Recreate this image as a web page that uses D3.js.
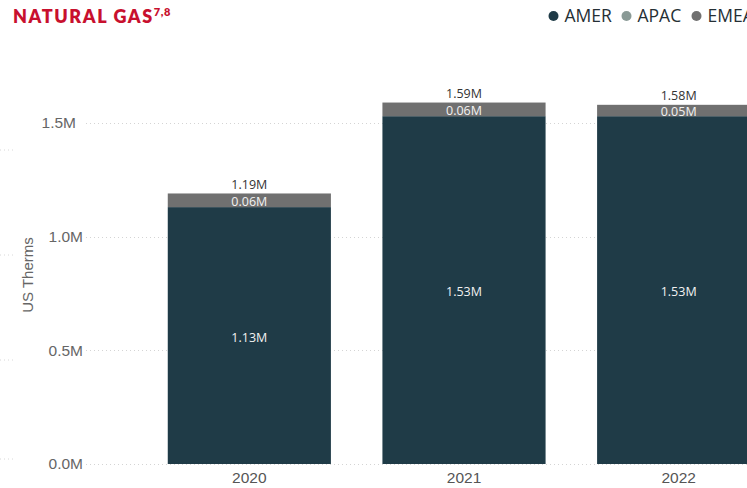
<!DOCTYPE html>
<html>
<head>
<meta charset="utf-8">
<script src="https://cdn.jsdelivr.net/npm/d3@7"></script>
<style>
  html, body { margin: 0; padding: 0; background: #fff; overflow: hidden; }
  svg { display: block; }
</style>
</head>
<body>
<svg id="chart" width="747" height="488"></svg>
<script>
// Natural gas consumption by region, in millions of US therms
const years = ["2020", "2021", "2022"];
const regions = ["AMER", "APAC", "EMEA"];
const amer = [1.13, 1.53, 1.53];
const apac = [0, 0, 0];
const emea = [0.06, 0.06, 0.05];
const totals = [1.19, 1.59, 1.58];
const yTicks = [0, 0.5, 1.0, 1.5];
const colors = ["#1f3b47", "#8a9a96", "#707070"];

const svg = d3.select("#chart");
const fmt = v => v.toFixed(2) + "M";

const x = d3.scaleBand().domain(years).range([142, 786]).paddingInner(0.24).paddingOuter(0.12);
const y = d3.scaleLinear().domain([0, 1.5]).range([464, 123]);
const color = d3.scaleOrdinal().domain(regions).range(colors);

// Title
const title = svg.append("text")
  .attr("x", 13).attr("y", 23)
  .attr("font-family", "Lato, 'Open Sans', sans-serif")
  .attr("font-weight", 800)
  .attr("font-size", 18)
  .attr("letter-spacing", 1.6)
  .attr("fill", "#c8102e")
  .text("NATURAL GAS");
title.append("tspan")
  .attr("dy", -7).attr("dx", 0)
  .attr("font-size", 11)
  .attr("letter-spacing", 0.6)
  .text("7,8");

// Legend
const legendX = [553.5, 626.5, 696.5];
const legend = svg.append("g").selectAll("g").data(regions).join("g")
  .attr("transform", (d, i) => `translate(${legendX[i]},16)`);
legend.append("circle").attr("r", 5).attr("fill", d => color(d));
legend.append("text")
  .attr("x", 11).attr("dy", "0.36em")
  .attr("font-family", "'Open Sans', sans-serif")
  .attr("font-size", 17.5)
  .attr("fill", "#252f35")
  .text(d => d);

// Faint gridlines from the neighbouring panel on the left edge
svg.append("g").selectAll("line").data([150, 255, 360, 459]).join("line")
  .attr("x1", 0).attr("x2", 16).attr("y1", d => d).attr("y2", d => d)
  .attr("stroke", "#d8d8d8").attr("stroke-dasharray", "1,3");

// Y gridlines
svg.append("g").selectAll("line").data(yTicks).join("line")
  .attr("x1", 86).attr("x2", 747)
  .attr("y1", d => Math.round(y(d)) + 0.5).attr("y2", d => Math.round(y(d)) + 0.5)
  .attr("stroke", "#d4d4d4").attr("stroke-dasharray", "1,3");

// Y axis labels
const yAxis = d3.axisLeft(y).tickValues(yTicks).tickSize(0).tickPadding(0)
  .tickFormat(d => d.toFixed(1) + "M");
svg.append("g").attr("transform", "translate(83,0)").call(yAxis)
  .call(g => g.select(".domain").remove())
  .call(g => g.selectAll("text")
    .attr("x", d => d === 1.5 ? -7 : 0)
    .attr("font-family", "'Liberation Sans', Arial, sans-serif")
    .attr("font-size", 15.5)
    .attr("fill", "#666"));

// Y axis title
svg.append("text")
  .attr("transform", "translate(33,275) rotate(-90)")
  .attr("text-anchor", "middle")
  .attr("font-family", "'Liberation Sans', Arial, sans-serif")
  .attr("font-size", 15)
  .attr("fill", "#666")
  .text("US Therms");

// Stacked bars
const rows = years.map((yr, i) => ({ year: yr, AMER: amer[i], APAC: apac[i], EMEA: emea[i], total: totals[i] }));
const stacked = d3.stack().keys(regions)(rows);

const layers = svg.append("g").selectAll("g").data(stacked).join("g")
  .attr("fill", d => color(d.key));
layers.selectAll("rect").data(d => d).join("rect")
  .attr("x", d => x(d.data.year))
  .attr("width", x.bandwidth())
  .attr("y", d => y(d[1]))
  .attr("height", d => y(d[0]) - y(d[1]));

// Segment labels
const segLabels = svg.append("g")
  .attr("font-family", "'Open Sans', sans-serif")
  .attr("font-size", 12.5)
  .attr("text-anchor", "middle")
  .attr("fill", "#f2f2f2");
stacked.forEach(layer => {
  segLabels.selectAll(null).data(layer.filter(d => d[1] - d[0] > 0)).join("text")
    .attr("x", d => x(d.data.year) + x.bandwidth() / 2)
    .attr("y", d => (y(d[0]) + y(d[1])) / 2 + 1.5)
    .attr("dy", "0.36em")
    .text(d => fmt(d[1] - d[0]));
});

// Total labels above bars
svg.append("g").selectAll("text").data(rows).join("text")
  .attr("x", d => x(d.year) + x.bandwidth() / 2)
  .attr("y", d => y(d.total) - 9)
  .attr("dy", "0.36em")
  .attr("text-anchor", "middle")
  .attr("font-family", "'Open Sans', sans-serif")
  .attr("font-size", 12.5)
  .attr("fill", "#333")
  .text(d => fmt(d.total));

// X axis labels
const xAxis = d3.axisBottom(x).tickSize(0).tickPadding(0);
svg.append("g").attr("transform", "translate(0,472)").call(xAxis)
  .call(g => g.select(".domain").remove())
  .call(g => g.selectAll("text")
    .attr("dy", "0.71em")
    .attr("font-family", "'Liberation Sans', Arial, sans-serif")
    .attr("font-size", 15.5)
    .attr("fill", "#555"));
</script>
</body>
</html>
